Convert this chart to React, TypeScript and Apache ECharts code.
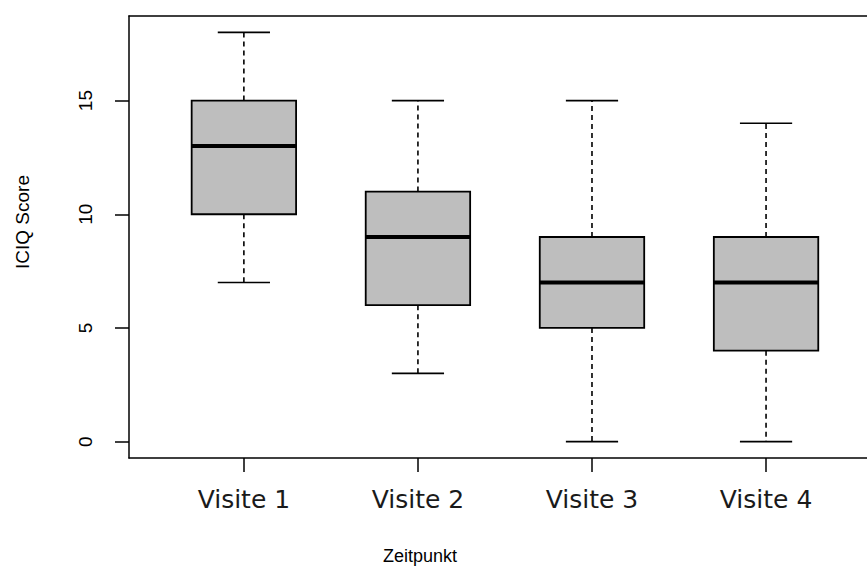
import React, { useEffect, useRef } from "react";
import * as echarts from "echarts";

const categories = ["Visite 1", "Visite 2", "Visite 3", "Visite 4"];
const positions = [1, 2, 3, 4];
const whiskerLow = [7, 3, 0, 0];
const q1 = [10, 6, 5, 4];
const median = [13, 9, 7, 7];
const q3 = [15, 11, 9, 9];
const whiskerHigh = [18, 15, 15, 14];
const yTicks = [0, 5, 10, 15];
const xTitle = "Zeitpunkt";
const yTitle = "ICIQ Score";

export default function App() {
  const ref = useRef<HTMLDivElement>(null);
  useEffect(() => {
    if (!ref.current) return;
    const chart = echarts.init(ref.current, null, { renderer: "svg" });
    const data = positions.map((p, i) => [p, whiskerLow[i], q1[i], median[i], q3[i], whiskerHigh[i]]);
    const axisFont = "Liberation Sans, Arial, sans-serif";
    chart.setOption({
      animation: false,
      backgroundColor: "#ffffff",
      grid: { left: 129, right: 0, top: 16, bottom: 116, containLabel: false },
      graphic: [
        {
          type: "text",
          x: 420,
          y: 556,
          style: {
            text: xTitle,
            fontFamily: axisFont,
            fontSize: 18,
            fill: "#000",
            align: "center",
            verticalAlign: "middle",
          },
        },
        {
          type: "text",
          x: 22,
          y: 222,
          rotation: Math.PI / 2,
          style: {
            text: yTitle,
            fontFamily: axisFont,
            fontSize: 19,
            fill: "#000",
            align: "center",
            verticalAlign: "middle",
          },
        },
      ],
      xAxis: [
        {
          type: "value",
          min: 0.34,
          max: 4.58,
          position: "bottom",
          splitLine: { show: false },
          axisLine: { show: true, onZero: false, lineStyle: { color: "#000", width: 1.5 } },
          axisTick: { show: true, length: 14, customValues: positions, lineStyle: { color: "#000", width: 1.5 } },
          axisLabel: {
            show: true,
            customValues: positions,
            margin: 29,
            fontFamily: "DejaVu Sans, Open Sans, sans-serif",
            fontSize: 25,
            color: "#1a1a1a",
            formatter: (v: number) => categories[Math.round(v) - 1] ?? "",
          },
        },
        {
          type: "value",
          min: 0.34,
          max: 4.58,
          position: "top",
          splitLine: { show: false },
          axisLine: { show: true, onZero: false, lineStyle: { color: "#000", width: 1.5 } },
          axisTick: { show: false },
          axisLabel: { show: false },
        },
      ],
      yAxis: {
        type: "value",
        min: -0.72,
        max: 18.72,
        splitLine: { show: false },
        axisLine: { show: true, onZero: false, lineStyle: { color: "#000", width: 1.5 } },
        axisTick: { show: true, length: 14, customValues: yTicks, lineStyle: { color: "#000", width: 1.5 } },
        axisLabel: {
          show: true,
          customValues: yTicks,
          rotate: 90,
          margin: 34,
          fontFamily: axisFont,
          fontSize: 19,
          color: "#000",
        },
      },
      series: [
        {
          type: "custom",
          xAxisIndex: 0,
          yAxisIndex: 0,
          encode: { x: 0, y: [1, 2, 3, 4, 5] },
          data,
          renderItem: (params: any, api: any) => {
            const x = api.value(0);
            const lo = api.coord([x, api.value(1)]);
            const b1 = api.coord([x, api.value(2)]);
            const md = api.coord([x, api.value(3)]);
            const b3 = api.coord([x, api.value(4)]);
            const hi = api.coord([x, api.value(5)]);
            const halfBox = api.size([0.3, 0])[0];
            const halfStaple = api.size([0.15, 0])[0];
            const cx = lo[0];
            const dash = { stroke: "#000", lineWidth: 1.6, lineDash: [5, 4] };
            const solid = { stroke: "#000", lineWidth: 1.6 };
            return {
              type: "group",
              children: [
                { type: "line", shape: { x1: cx, y1: b3[1], x2: cx, y2: hi[1] }, style: dash },
                { type: "line", shape: { x1: cx, y1: b1[1], x2: cx, y2: lo[1] }, style: dash },
                { type: "line", shape: { x1: cx - halfStaple, y1: hi[1], x2: cx + halfStaple, y2: hi[1] }, style: solid },
                { type: "line", shape: { x1: cx - halfStaple, y1: lo[1], x2: cx + halfStaple, y2: lo[1] }, style: solid },
                {
                  type: "rect",
                  shape: { x: cx - halfBox, y: b3[1], width: halfBox * 2, height: b1[1] - b3[1] },
                  style: { fill: "#bebebe", stroke: "#000", lineWidth: 1.8 },
                },
                { type: "line", shape: { x1: cx - halfBox, y1: md[1], x2: cx + halfBox, y2: md[1] }, style: { stroke: "#000", lineWidth: 4 } },
              ],
            };
          },
        },
      ],
    });
    return () => chart.dispose();
  }, []);
  return <div ref={ref} style={{ position: "fixed", left: 0, top: 0, width: 867, height: 574 }} />;
}
